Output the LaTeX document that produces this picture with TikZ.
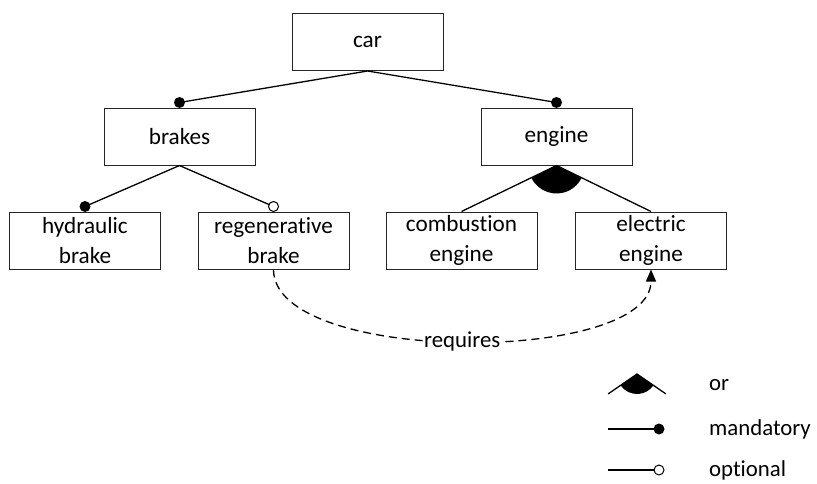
\documentclass[tikz,border=0pt]{standalone}
\usepackage{fontspec}
\setmainfont{Carlito}[Ligatures=NoCommon]
\usetikzlibrary{arrows.meta,calc}
\begin{document}
\begin{tikzpicture}[x=1pt,y=-1pt,
  feat/.style={draw=black!85,line width=1pt,minimum width=151pt,minimum height=57pt,
    inner sep=0pt,align=center,font=\fontsize{23.2}{29.5}\selectfont},
  conn/.style={line width=1.3pt},
  mand/.style={fill=black},
  opt/.style={fill=white,draw=black,line width=1pt},
  lbl/.style={anchor=west,inner sep=0pt,font=\fontsize{22.8}{27}\selectfont}]
\useasboundingbox (0,0) rectangle (817,483);
\node[feat] (car) at (367.5,42) {car};
\node[feat] (brakes) at (179.5,136.5) {brakes};
\node[feat] (engine) at (556.5,136.5) {engine};
\node[feat] (hyd) at (85,240.5) {hydraulic\\brake};
\node[feat] (reg) at (273.5,240.5) {regenerative\\brake};
\node[feat] (comb) at (461.5,240.5) {combustion\\engine};
\node[feat] (elec) at (651,240.5) {electric\\engine};
\coordinate (bdot) at ([yshift=5pt]brakes.north);
\coordinate (edot) at ([yshift=5pt]engine.north);
\coordinate (hdot) at ([yshift=5pt]hyd.north);
\coordinate (rdot) at ([yshift=5pt]reg.north);
\draw[conn] (car.south) -- (bdot);
\draw[conn] (car.south) -- (edot);
\draw[conn] (brakes.south) -- (hdot);
\draw[conn] (brakes.south) -- (rdot);
\fill[mand] (bdot) circle[radius=5.5pt];
\fill[mand] (edot) circle[radius=5.5pt];
\fill[mand] (hdot) circle[radius=5.5pt];
\draw[opt] (rdot) circle[radius=5pt];
\draw[conn] (engine.south) -- (comb.north);
\draw[conn] (engine.south) -- (elec.north);
\fill (engine.south) -- ++(206.8:28pt) arc[start angle=206.8,end angle=333.1,radius=28pt] -- cycle;
\draw[conn,dashed,dash pattern=on 8pt off 5pt,-{Triangle[width=10pt,length=12pt]}]
  (reg.south) .. controls (273.5,365) and (651,365) .. (elec.south)
  node[pos=0.5,fill=white,inner sep=1pt,font=\fontsize{22.8}{27}\selectfont] (req) {requires};
% legend
\coordinate (oa) at (637,374);
\draw[conn] ($(oa)+(214.6:35pt)$) -- (oa) -- ($(oa)+(325.4:35pt)$);
\fill (oa) -- ++(214.6:20pt) arc[start angle=214.6,end angle=325.4,radius=20pt] -- cycle;
\node[lbl] (lor) at (709,385) {or};
\coordinate (ma) at (608,429);
\coordinate (mb) at (659,429);
\draw[conn] (ma) -- (mb);
\fill[mand] (mb) circle[radius=5.5pt];
\node[lbl] (lmand) at (709,429) {mandatory};
\coordinate (pa) at (608,470);
\coordinate (pb) at (659,470);
\draw[conn] (pa) -- (pb);
\draw[opt] (pb) circle[radius=5pt];
\node[lbl] (lopt) at (709,470) {optional};
\end{tikzpicture}
\end{document}
